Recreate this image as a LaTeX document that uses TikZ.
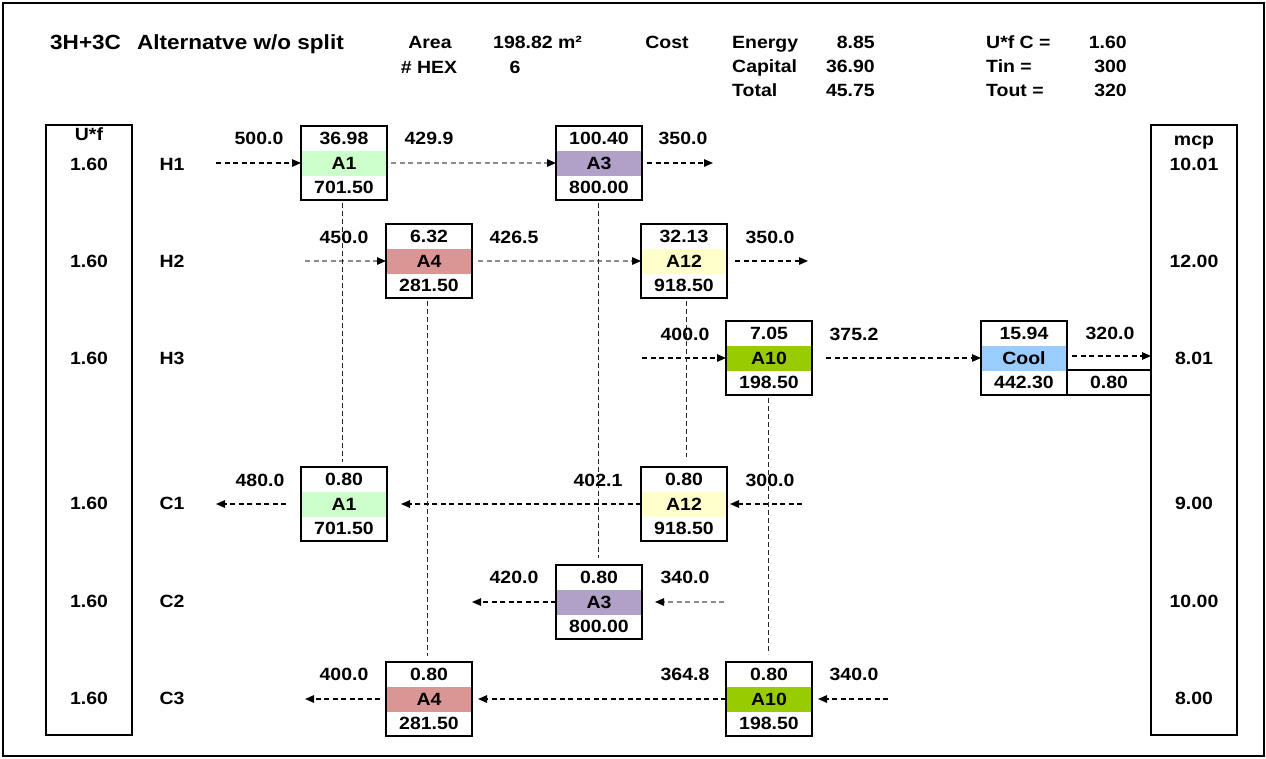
\documentclass[tikz,border=0pt]{standalone}
\usepackage{fontspec}
\setmainfont{Liberation Sans}[FakeStretch=1.1]
\usetikzlibrary{arrows.meta}

\definecolor{cAone}{HTML}{CCFFCC}
\definecolor{cAthree}{HTML}{B1A0C7}
\definecolor{cAfour}{HTML}{DA9694}
\definecolor{cAtwelve}{HTML}{FFFFCC}
\definecolor{cAten}{HTML}{99CC00}
\definecolor{cCool}{HTML}{99CCFF}
\definecolor{lightflow}{HTML}{8C8C8C}

\tikzset{
  lbl/.style={inner sep=0pt, text height=12.6pt, text depth=0pt,
              font=\bfseries\fontsize{17.7}{20}\selectfont},
  ttl/.style={lbl, text height=14.5pt, font=\bfseries\fontsize{20.5}{24}\selectfont},
  hexfr/.style={outer sep=0pt, minimum width=86pt, minimum height=74pt, inner sep=0pt},
  boxline/.style={line width=2.8pt},
  sidebox/.style={draw, boxline, outer sep=0pt, minimum width=86pt,
                  minimum height=610pt, inner sep=0pt},
  flow/.style={dash pattern=on 5pt off 3.5pt, line width=1.3pt,
               -{Triangle[length=9pt,width=7.5pt,color=black]}},
  flowgray/.style={flow, draw=lightflow},
  tie/.style={dash pattern=on 5pt off 3pt, line width=1pt, draw=black!85},
}

% exchanger unit: name, x, y, upper value, label, lower value, band colour
\newcommand\hexunit[7]{%
  \node[hexfr] (#1) at (#2,#3) {};
  \fill[#7] ([yshift=12.5pt]#1.west) rectangle ([yshift=-12.5pt]#1.east);
  \draw[boxline] (#1.south west) rectangle (#1.north east);
  \node[lbl] at ([yshift=-12.5pt]#1.north) {#4};
  \node[lbl] at (#1.center) {#5};
  \node[lbl] at ([yshift=12.5pt]#1.south) {#6};
}

\begin{document}
\begin{tikzpicture}[x=1pt, y=-1pt]
\useasboundingbox (0,0) rectangle (1266,758);
\draw[boxline] (3,3) rectangle (1264,756);

% ---- header ----
\node[ttl, anchor=west] (ttlA) at (50,42) {3H+3C};
\node[ttl, anchor=east] (ttlB) at (344,42) {Alternatve w/o split};
\node[lbl] (area) at (430,42) {Area};
\node[lbl] (nhex) at (429,67) {\# HEX};
\node[lbl, anchor=west] (areav) at (493,42) {198.82 m²};
\node[lbl] (nhexv) at (515,67) {6};
\node[lbl] (cost) at (667,42) {Cost};
\node[lbl, anchor=west] (energy) at (732,42) {Energy};
\node[lbl, anchor=west] (capital) at (732,66) {Capital};
\node[lbl, anchor=west] (total) at (732,90) {Total};
\node[lbl, anchor=east] (energyv) at (875,42) {8.85};
\node[lbl, anchor=east] (capitalv) at (875,66) {36.90};
\node[lbl, anchor=east] (totalv) at (875,90) {45.75};
\node[lbl, anchor=west] (ufc) at (986,42) {U*f C =};
\node[lbl, anchor=west] (tin) at (986,66) {Tin =};
\node[lbl, anchor=west] (tout) at (986,90) {Tout =};
\node[lbl, anchor=east] (ufcv) at (1127,42) {1.60};
\node[lbl, anchor=east] (tinv) at (1127,66) {300};
\node[lbl, anchor=east] (toutv) at (1127,90) {320};

% ---- side columns ----
\node[sidebox] (ufbox) at (89,430) {};
\node[sidebox] (mcpbox) at (1194,430) {};
\node[lbl] (ufhead) at (89,134) {U*f};
\node[lbl] (mcphead) at (1194,139) {mcp};
\foreach \nm/\yy/\mc in {H1/164/10.01, H2/261/12.00, H3/358/8.01,
                         C1/503/9.00, C2/601/10.00, C3/698/8.00}{
  \node[lbl] (uf\nm) at (89,\yy) {1.60};
  \node[lbl] (st\nm) at (172,\yy) {\nm};
  \node[lbl] (mcp\nm) at (1194,\yy) {\mc};
}

% ---- exchangers on hot streams ----
\hexunit{A1h}{344}{163}{36.98}{A1}{701.50}{cAone}
\hexunit{A3h}{599}{163}{100.40}{A3}{800.00}{cAthree}
\hexunit{A4h}{429}{261}{6.32}{A4}{281.50}{cAfour}
\hexunit{A12h}{684}{261}{32.13}{A12}{918.50}{cAtwelve}
\hexunit{A10h}{769}{358}{7.05}{A10}{198.50}{cAten}
\hexunit{Cool}{1024}{358}{15.94}{Cool}{442.30}{cCool}
\node[draw, boxline, outer sep=0pt, minimum width=84pt, minimum height=25pt, inner sep=0pt]
  (coolU) at (1109,382.5) {};
\node[lbl] (coolUv) at (coolU) {0.80};

% ---- exchangers on cold streams ----
\hexunit{A1c}{344}{504}{0.80}{A1}{701.50}{cAone}
\hexunit{A12c}{684}{504}{0.80}{A12}{918.50}{cAtwelve}
\hexunit{A3c}{599}{602}{0.80}{A3}{800.00}{cAthree}
\hexunit{A4c}{429}{699}{0.80}{A4}{281.50}{cAfour}
\hexunit{A10c}{769}{699}{0.80}{A10}{198.50}{cAten}

% ---- stream ends ----
\coordinate (h1in) at (216,163);
\coordinate (h1out) at (713,163);
\coordinate (h2in) at (305,261);
\coordinate (h2out) at (808,261);
\coordinate (h3in) at (642,358);
\coordinate (c1in) at (802,504);
\coordinate (c1out) at (216,504);
\coordinate (c2in) at (724,602);
\coordinate (c2out) at (472,602);
\coordinate (c3in) at (888,699);
\coordinate (c3out) at (305,699);

% ---- hot stream flows ----
\draw[flow] (h1in) -- (A1h.west);
\draw[flowgray, shorten <=4pt] (A1h.east) -- (A3h.west);
\draw[flow, shorten <=5pt] (A3h.east) -- (h1out);
\draw[flowgray] (h2in) -- (A4h.west);
\draw[flowgray, shorten <=6pt] (A4h.east) -- (A12h.west);
\draw[flow, shorten <=8pt] (A12h.east) -- (h2out);
\draw[flow] (h3in) -- (A10h.west);
\draw[flow, shorten <=14pt] (A10h.east) -- (Cool.west);
\draw[flow, shorten <=5pt] ([yshift=2pt]Cool.east) -- ([yshift=2pt]Cool.east -| mcpbox.west);

% ---- cold stream flows ----
\draw[flow, shorten >=3pt] (c1in) -- (A12c.east);
\draw[flow, shorten >=14pt] (A12c.west) -- (A1c.east);
\draw[flow, shorten <=15pt] (A1c.west) -- (c1out);
\draw[flowgray, shorten >=13pt] (c2in) -- (A3c.east);
\draw[flow] (A3c.west) -- (c2out);
\draw[flow, shorten >=6pt] (c3in) -- (A10c.east);
\draw[flow, shorten >=6pt] (A10c.west) -- (A4c.east);
\draw[flow, shorten <=6pt] (A4c.west) -- (c3out);

% ---- ties between matched units ----
\draw[tie, shorten <=3pt, shorten >=5pt] ([xshift=-2pt]A1h.south) -- ([xshift=-2pt]A1c.north);
\draw[tie, shorten <=3pt, shorten >=6pt] ([xshift=-2pt]A4h.south) -- ([xshift=-2pt]A4c.north);
\draw[tie, shorten <=3pt, shorten >=7pt] ([xshift=-1pt]A3h.south) -- ([xshift=-1pt]A3c.north);
\draw[tie, shorten <=3pt, shorten >=10pt] ([xshift=2.5pt]A12h.south) -- ([xshift=2.5pt]A12c.north);
\draw[tie, shorten <=3pt, shorten >=8pt] ([xshift=-1pt]A10h.south) -- ([xshift=-1pt]A10c.north);

% ---- temperatures ----
\node[lbl] (t1) at (259,138) {500.0};
\node[lbl] (t2) at (429,138) {429.9};
\node[lbl] (t3) at (683,138) {350.0};
\node[lbl] (t4) at (344,237) {450.0};
\node[lbl] (t5) at (514,237) {426.5};
\node[lbl] (t6) at (770,237) {350.0};
\node[lbl] (t7) at (685,334) {400.0};
\node[lbl] (t8) at (854,334) {375.2};
\node[lbl] (t9) at (1110,333) {320.0};
\node[lbl] (t10) at (260,480) {480.0};
\node[lbl] (t11) at (598,480) {402.1};
\node[lbl] (t12) at (770,480) {300.0};
\node[lbl] (t13) at (514,577) {420.0};
\node[lbl] (t14) at (685,577) {340.0};
\node[lbl] (t15) at (344,674) {400.0};
\node[lbl] (t16) at (685,674) {364.8};
\node[lbl] (t17) at (854,674) {340.0};
\end{tikzpicture}
\end{document}
